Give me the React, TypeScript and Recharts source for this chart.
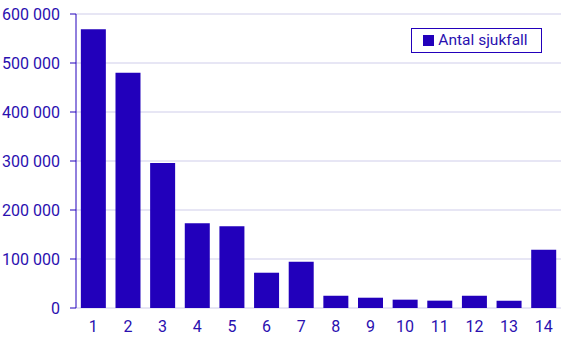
import { BarChart, Bar, XAxis, YAxis, CartesianGrid, Legend } from 'recharts'

const CATEGORIES = ['1', '2', '3', '4', '5', '6', '7', '8', '9', '10', '11', '12', '13', '14']
const SJUKFALL = [569000, 480000, 296000, 173000, 167000, 72000, 94500, 25000, 21000, 17000, 15000, 25000, 15000, 119000]
const Y_TICKS = [0, 100000, 200000, 300000, 400000, 500000, 600000]
const BOUNDARY_TICKS = [0, 1, 2, 3, 4, 5, 6, 7, 8, 9, 10, 11, 12, 13, 14]

const BLUE = '#2200bb'
const TEXT = '#2a10b0'
const GRID = '#cfcdea'

const data = CATEGORIES.map((name, i) => ({ name, value: SJUKFALL[i] }))

const fmt = (v: number) => String(v).replace(/\B(?=(\d{3})+(?!\d))/g, ' ')

export default function App() {
  return (
    <div style={{ position: 'absolute', left: 0, top: 0, width: 567, height: 340, background: '#fff', fontFamily: 'Roboto, sans-serif' }}>
      <BarChart width={567} height={340} data={data} margin={{ top: 14, right: 6, bottom: 4, left: 0 }} barCategoryGap="14%">
        <CartesianGrid horizontal vertical={false} stroke={GRID} strokeWidth={1} />
        <XAxis
          xAxisId="bounds"
          type="number"
          domain={[0, 14]}
          ticks={BOUNDARY_TICKS}
          tick={false}
          height={0}
          axisLine={{ stroke: BLUE }}
          tickLine={{ stroke: BLUE }}
          tickSize={6}
        />
        <XAxis
          dataKey="name"
          axisLine={false}
          tickLine={false}
          height={28}
          tickMargin={7}
          tick={{ fill: TEXT, fontSize: 16 }}
          interval={0}
        />
        <YAxis
          domain={[0, 600000]}
          ticks={Y_TICKS}
          width={76}
          tickFormatter={fmt}
          axisLine={{ stroke: BLUE }}
          tickLine={{ stroke: BLUE }}
          tickSize={6}
          tickMargin={10}
          tick={{ fill: TEXT, fontSize: 16 }}
        />
        <Legend
          layout="horizontal"
          verticalAlign="middle"
          align="center"
          iconType="square"
          iconSize={11}
          wrapperStyle={{ top: 28, left: 411, width: 131, height: 25, boxSizing: 'border-box', border: `1px solid ${BLUE}`, padding: '1px 0 0 8px', lineHeight: '20px', textAlign: 'left' }}
          formatter={(v: string) => <span style={{ color: TEXT, fontSize: 15.5 }}>{v}</span>}
        />
        <Bar dataKey="value" name="Antal sjukfall" fill={BLUE} isAnimationActive={false} />
      </BarChart>
    </div>
  )
}
